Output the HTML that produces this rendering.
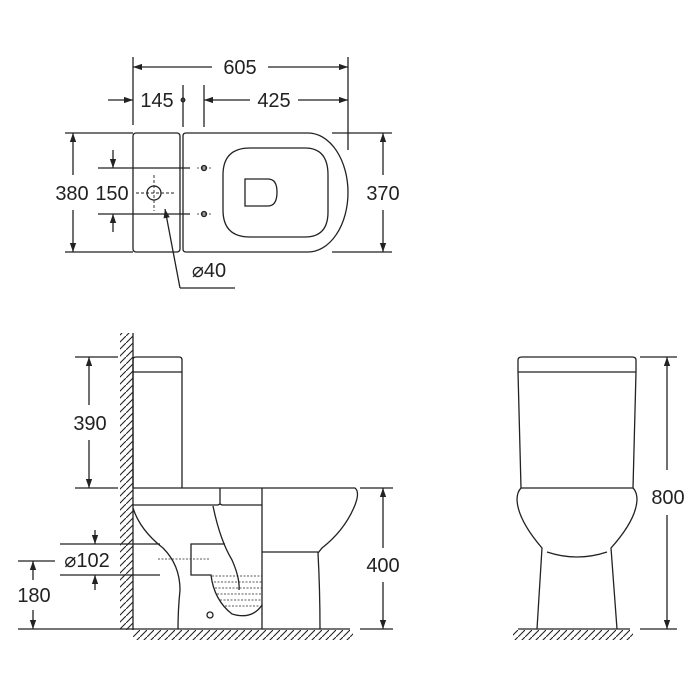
<!DOCTYPE html>
<html><head><meta charset="utf-8"><style>html,body{margin:0;padding:0;background:#fff}svg{display:block}</style></head>
<body>
<svg width="700" height="700" viewBox="0 0 700 700" xmlns="http://www.w3.org/2000/svg" font-family="Liberation Sans, Arial, sans-serif" font-size="20" fill="none" stroke="#222" stroke-width="1.3">
<defs>
<marker id="a" viewBox="0 0 10 10" refX="10" refY="5" markerWidth="10" markerHeight="9" orient="auto-start-reverse" markerUnits="userSpaceOnUse"><path d="M0,1.5 L10,5 L0,8.5z" fill="#222" stroke="none"/></marker>
<pattern id="h" width="7" height="7" patternUnits="userSpaceOnUse"><path d="M-1,8 L8,-1" stroke="#222" stroke-width="1.1"/></pattern>
</defs>
<!-- TOP VIEW -->
<line x1="133" y1="57" x2="133" y2="125"/><line x1="348" y1="57" x2="348" y2="150"/>
<line x1="212" y1="67" x2="133" y2="67" marker-end="url(#a)"/><line x1="268" y1="67" x2="348" y2="67" marker-end="url(#a)"/>
<text x="240" y="74" fill="#222" stroke="none" text-anchor="middle">605</text>
<line x1="108" y1="100" x2="133" y2="100" marker-end="url(#a)"/>
<text x="157" y="107" fill="#222" stroke="none" text-anchor="middle">145</text>
<circle cx="183" cy="100" r="1.8" fill="#888"/>
<line x1="183" y1="85" x2="183" y2="127"/><line x1="204" y1="85" x2="204" y2="127"/>
<line x1="250" y1="100" x2="204" y2="100" marker-end="url(#a)"/><line x1="298" y1="100" x2="348" y2="100" marker-end="url(#a)"/>
<text x="274" y="107" fill="#222" stroke="none" text-anchor="middle">425</text>
<rect x="133" y="133" width="47" height="119" rx="3"/>
<path d="M186,133 H308 A40,59.5 0 0 1 308,252 H186 Q183,252 183,249 V136 Q183,133 186,133Z"/>
<path d="M250,148 H305 Q328,148 328,175 V212 Q328,237 305,237 H250 Q223,237 223,210 V175 Q223,148 250,148Z"/>
<path d="M245,179 H268 Q277,179 277,192 Q277,206 268,206 H245Z"/>
<line x1="65" y1="133" x2="133" y2="133"/><line x1="65" y1="252" x2="133" y2="252"/>
<line x1="73" y1="175" x2="73" y2="133" marker-end="url(#a)"/><line x1="73" y1="210" x2="73" y2="252" marker-end="url(#a)"/>
<text x="72" y="200" fill="#222" stroke="none" text-anchor="middle">380</text>
<text x="112" y="200" fill="#222" stroke="none" text-anchor="middle">150</text>
<line x1="98" y1="168" x2="190" y2="168"/><line x1="98" y1="214" x2="190" y2="214"/>
<line x1="113" y1="150" x2="113" y2="168" marker-end="url(#a)"/><line x1="113" y1="232" x2="113" y2="214" marker-end="url(#a)"/>
<circle cx="154" cy="193" r="7"/>
<line x1="136" y1="193" x2="175" y2="193" stroke-dasharray="3,2" stroke-width="0.9"/><line x1="154" y1="175" x2="154" y2="211" stroke-dasharray="3,2" stroke-width="0.9"/>
<circle cx="204" cy="168" r="2.5" fill="#999"/><circle cx="204" cy="214" r="2.5" fill="#999"/>
<line x1="197" y1="168" x2="211" y2="168" stroke-dasharray="2,2" stroke-width="0.8"/><line x1="197" y1="214" x2="211" y2="214" stroke-dasharray="2,2" stroke-width="0.8"/>
<line x1="180" y1="288" x2="165" y2="209" marker-end="url(#a)"/><line x1="180" y1="288" x2="235" y2="288"/>
<text x="209" y="277" fill="#222" stroke="none" text-anchor="middle">⌀40</text>
<line x1="332" y1="133" x2="392" y2="133"/><line x1="332" y1="252" x2="392" y2="252"/>
<line x1="383" y1="175" x2="383" y2="133" marker-end="url(#a)"/><line x1="383" y1="210" x2="383" y2="252" marker-end="url(#a)"/>
<text x="383" y="200" fill="#222" stroke="none" text-anchor="middle">370</text>
<!-- SIDE VIEW -->
<rect x="120" y="333" width="13" height="297" fill="url(#h)" stroke="none"/>
<rect x="133" y="630" width="220" height="10" fill="url(#h)" stroke="none"/>
<line x1="133" y1="333" x2="133" y2="630"/><line x1="133" y1="629" x2="350" y2="629"/>
<path d="M133,488 V360 Q133,357 136,357 H179 Q182,357 182,360 V488"/><line x1="133" y1="372" x2="182" y2="372"/>
<path d="M133,488 H355 Q360,492 355,505 Q345,530 322,548 L318,553 Q320,590 320,629"/>
<path d="M133,505 H218 L220,504 V488 M220,504 L222,505 H262"/>
<line x1="262" y1="488" x2="262" y2="629"/><line x1="262" y1="552" x2="318" y2="552"/>
<path d="M133,508 Q140,530 163,548 Q180,565 180,590 Q178,610 178,629"/>
<path d="M213,506 Q220,540 232,560 Q240,578 239,590"/>
<path d="M225,544 H191 V575 H211 Q214,600 232,614 Q252,620 262,605"/>
<line x1="158" y1="559" x2="210" y2="559" stroke-dasharray="2,1.5" stroke-width="0.8"/>
<g stroke-dasharray="2,1.5" stroke-width="0.8"><line x1="212" y1="576" x2="262" y2="576"/><line x1="214" y1="582" x2="262" y2="582"/><line x1="215" y1="588" x2="262" y2="588"/><line x1="217" y1="594" x2="262" y2="594"/><line x1="220" y1="600" x2="262" y2="600"/><line x1="225" y1="606" x2="260" y2="606"/></g>
<circle cx="210" cy="615" r="3"/>
<line x1="75" y1="357" x2="118" y2="357"/><line x1="75" y1="488" x2="118" y2="488"/>
<line x1="89" y1="405" x2="89" y2="357" marker-end="url(#a)"/><line x1="89" y1="440" x2="89" y2="488" marker-end="url(#a)"/>
<text x="90" y="430" fill="#222" stroke="none" text-anchor="middle">390</text>
<line x1="360" y1="488" x2="393" y2="488"/><line x1="360" y1="629" x2="393" y2="629"/>
<line x1="383" y1="548" x2="383" y2="488" marker-end="url(#a)"/><line x1="383" y1="582" x2="383" y2="629" marker-end="url(#a)"/>
<text x="383" y="572" fill="#222" stroke="none" text-anchor="middle">400</text>
<line x1="60" y1="544" x2="160" y2="544"/><line x1="60" y1="575" x2="160" y2="575"/>
<line x1="95" y1="530" x2="95" y2="544" marker-end="url(#a)"/><line x1="95" y1="590" x2="95" y2="575" marker-end="url(#a)"/>
<text x="87" y="567" fill="#222" stroke="none" text-anchor="middle">⌀102</text>
<line x1="18" y1="561" x2="55" y2="561"/><line x1="18" y1="629" x2="133" y2="629"/>
<line x1="33" y1="580" x2="33" y2="561" marker-end="url(#a)"/><line x1="33" y1="610" x2="33" y2="629" marker-end="url(#a)"/>
<text x="34" y="602" fill="#222" stroke="none" text-anchor="middle">180</text>
<!-- FRONT VIEW -->
<rect x="513" y="630" width="120" height="10" fill="url(#h)" stroke="none"/>
<line x1="518" y1="629" x2="630" y2="629"/>
<path d="M521,488 L518,372 V360 Q518,357 522,357 H632 Q636,357 636,360 V372 L633,488Z"/><line x1="518" y1="372" x2="636" y2="372"/>
<path d="M521,488 Q517,492 517,500 Q518,520 542,548 L537,629 M633,488 Q637,492 637,500 Q636,520 611,548 L617,629"/>
<path d="M547,552 Q577,562 607,552"/>
<line x1="640" y1="357" x2="677" y2="357"/><line x1="640" y1="629" x2="677" y2="629"/>
<line x1="667" y1="470" x2="667" y2="357" marker-end="url(#a)"/><line x1="667" y1="515" x2="667" y2="629" marker-end="url(#a)"/>
<text x="668" y="504" fill="#222" stroke="none" text-anchor="middle">800</text>
</svg>
</body></html>
